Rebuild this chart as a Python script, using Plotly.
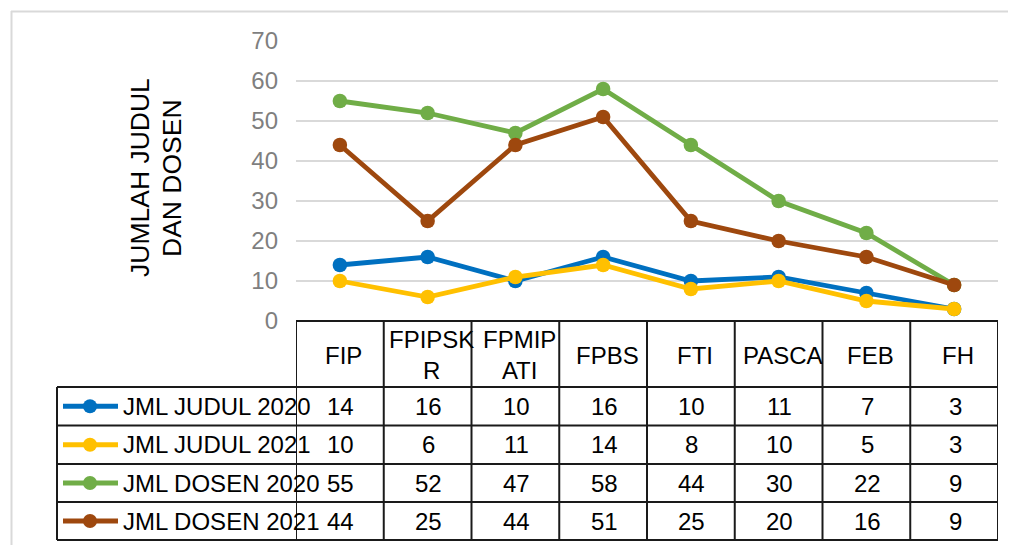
import plotly.graph_objects as go

# ---- data ----
categories = ["FIP", "FPIPSKR", "FPMIPATI", "FPBS", "FTI", "PASCA", "FEB", "FH"]
header_labels = ["FIP", "FPIPSK<br>R", "FPMIP<br>ATI", "FPBS", "FTI", "PASCA", "FEB", "FH"]
series_names = ["JML JUDUL 2020", "JML JUDUL 2021", "JML DOSEN 2020", "JML DOSEN 2021"]
judul_2020 = [14, 16, 10, 16, 10, 11, 7, 3]
judul_2021 = [10, 6, 11, 14, 8, 10, 5, 3]
dosen_2020 = [55, 52, 47, 58, 44, 30, 22, 9]
dosen_2021 = [44, 25, 44, 51, 25, 20, 16, 9]
y_ticks = [0, 10, 20, 30, 40, 50, 60, 70]
y_title_lines = ["JUMLAH JUDUL", "DAN DOSEN"]

series_values = [judul_2020, judul_2021, dosen_2020, dosen_2021]
colors = ["#0070C0", "#FFC000", "#70AD47", "#9E480E"]

# ---- geometry (pixels in the final screenshot) ----
W, H = 1016, 545
OFF = 8  # page body margin
FONT = "Liberation Sans, Arial, sans-serif"
FS = 24


def px(x):
    return (x - OFF) / W


def py(y):
    return 1 - (y - OFF) / H


plot_left, plot_right = 296, 998
plot_top, plot_bottom = 41, 321
legend_left = 57
header_bottom = 387
row_bounds = [387, 425.5, 464, 502, 540]
row_centers = [(row_bounds[i] + row_bounds[i + 1]) / 2 for i in range(4)]
header_center = (plot_bottom + header_bottom) / 2 + 1

x_idx = list(range(len(categories)))

fig = go.Figure()
for name, vals, c in zip(series_names, series_values, colors):
    fig.add_trace(go.Scatter(
        x=x_idx, y=vals, name=name, mode="lines+markers",
        line=dict(color=c, width=4.8),
        marker=dict(color=c, size=14.5),
        cliponaxis=False, showlegend=False,
    ))

shapes = []
annotations = []

# outer chart border (light gray)
shapes.append(dict(type="line", xref="paper", yref="paper", x0=px(11), x1=px(W + 20),
                   y0=py(11.5), y1=py(11.5), line=dict(color="#D9D9D9", width=2)))
shapes.append(dict(type="line", xref="paper", yref="paper", x0=px(11.5), x1=px(11.5),
                   y0=py(11), y1=py(H + 20), line=dict(color="#D9D9D9", width=2)))

border = dict(color="#1a1a1a", width=2)
n = len(categories)
# horizontal table lines
shapes.append(dict(type="line", xref="x", yref="paper", x0=-0.5, x1=n - 0.5,
                   y0=py(plot_bottom), y1=py(plot_bottom), line=border))
for yb in row_bounds:
    shapes.append(dict(type="line", xref="paper", yref="paper", x0=px(legend_left), x1=px(plot_right),
                       y0=py(yb), y1=py(yb), line=border))
# vertical table lines
shapes.append(dict(type="line", xref="paper", yref="paper", x0=px(legend_left), x1=px(legend_left),
                   y0=py(header_bottom), y1=py(row_bounds[-1]), line=border))
for i in range(n + 1):
    shapes.append(dict(type="line", xref="x", yref="paper", x0=i - 0.5, x1=i - 0.5,
                       y0=py(plot_bottom), y1=py(row_bounds[-1]), line=border))

# header labels
for i, lab in enumerate(header_labels):
    annotations.append(dict(x=i, y=py(header_center), xref="x", yref="paper", text=lab,
                            showarrow=False, font=dict(family=FONT, size=FS, color="#000000"),
                            xanchor="center", yanchor="middle", xshift=4))

# rows: legend keys, names, values
for r, (name, vals, c) in enumerate(zip(series_names, series_values, colors)):
    yc = row_centers[r]
    shapes.append(dict(type="line", xref="paper", yref="paper", x0=px(63), x1=px(118),
                       y0=py(yc), y1=py(yc), line=dict(color=c, width=4.8)))
    shapes.append(dict(type="circle", xref="paper", yref="paper", x0=px(83), x1=px(97),
                       y0=py(yc - 7), y1=py(yc + 7), fillcolor=c, line=dict(color=c, width=0)))
    annotations.append(dict(x=px(121), y=py(yc), xref="paper", yref="paper", text=name,
                            showarrow=False, font=dict(family=FONT, size=FS, color="#000000"),
                            xanchor="left", yanchor="middle"))
    for i, v in enumerate(vals):
        annotations.append(dict(x=i, y=py(yc), xref="x", yref="paper", text=str(v),
                                showarrow=False, font=dict(family=FONT, size=FS, color="#000000"),
                                xanchor="center", yanchor="middle", xshift=1))

# y-axis title (two rotated lines)
for line_text, xc in zip(y_title_lines, [140, 172]):
    annotations.append(dict(x=px(xc), y=py(178), xref="paper", yref="paper", text=line_text,
                            textangle=-90, showarrow=False,
                            font=dict(family=FONT, size=26.5, color="#000000"),
                            xanchor="center", yanchor="middle"))

fig.update_layout(
    width=W, height=H, autosize=False,
    margin=dict(l=0, r=0, t=0, b=0),
    paper_bgcolor="white", plot_bgcolor="white",
    shapes=shapes, annotations=annotations,
    xaxis=dict(domain=[px(plot_left), px(plot_right)], range=[-0.5, n - 0.5],
               visible=False, fixedrange=True, automargin=False),
    yaxis=dict(domain=[py(plot_bottom), py(plot_top)], range=[0, 70],
               tickvals=y_ticks, ticktext=[str(t) for t in y_ticks],
               showgrid=True, gridcolor="#D9D9D9", gridwidth=1.5,
               zeroline=False, showline=False, ticks="",
               ticklabelstandoff=17, automargin=False,
               tickfont=dict(family=FONT, size=FS, color="#7F7F7F"),
               fixedrange=True),
    showlegend=False,
)

fig.write_html("out.html")
